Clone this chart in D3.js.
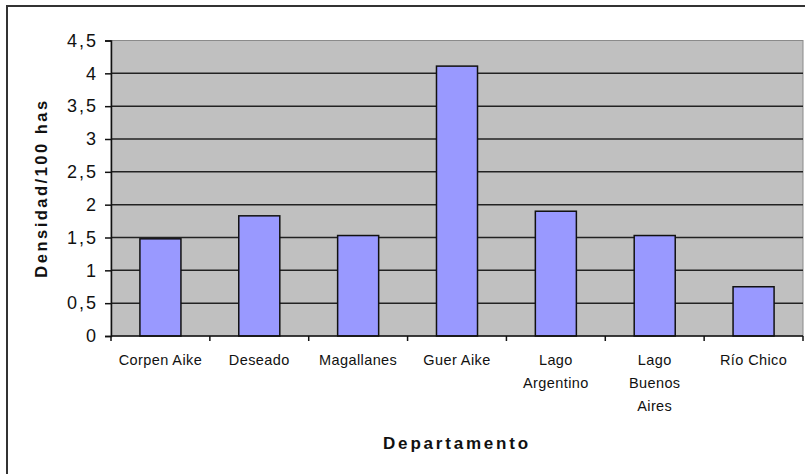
<!DOCTYPE html>
<html>
<head>
<meta charset="utf-8">
<script src="https://cdn.jsdelivr.net/npm/d3@7"></script>
<style>
  body { margin: 0; background: #fff; }
  svg { display: block; font-family: "Liberation Sans", Arial, sans-serif; }
</style>
</head>
<body>
<svg id="chart" width="805" height="474"></svg>
<script>
// data
var departamentos = ["Corpen Aike", "Deseado", "Magallanes", "Guer Aike", "Lago Argentino", "Lago Buenos Aires", "Río Chico"];
var etiquetas = [["Corpen Aike"], ["Deseado"], ["Magallanes"], ["Guer Aike"], ["Lago", "Argentino"], ["Lago", "Buenos", "Aires"], ["Río Chico"]];
var densidad = [1.48, 1.83, 1.53, 4.11, 1.90, 1.53, 0.75];
var yTicks = [0, 0.5, 1, 1.5, 2, 2.5, 3, 3.5, 4, 4.5];

var plot = {left: 111, right: 803, top: 40.5, bottom: 336};

var svg = d3.select("#chart");

// outer frame (right and bottom edges fall outside the picture)
svg.append("rect")
   .attr("x", 7).attr("y", 6)
   .attr("width", 900).attr("height", 600)
   .attr("fill", "#fff")
   .attr("stroke", "#333").attr("stroke-width", 2);

var x = d3.scaleBand()
          .domain(departamentos)
          .range([plot.left, plot.right])
          .paddingInner(0.585)
          .paddingOuter(0.2925);
var xTick = d3.scaleBand()
          .domain(departamentos)
          .range([plot.left, plot.right]);
var y = d3.scaleLinear()
          .domain([0, 4.5])
          .range([plot.bottom, plot.top]);

// plot area
svg.append("rect")
   .attr("x", plot.left).attr("y", plot.top)
   .attr("width", plot.right - plot.left)
   .attr("height", plot.bottom - plot.top)
   .attr("fill", "#c0c0c0")
   .attr("stroke", "#8a8a8a").attr("stroke-width", 1);

// gridlines
svg.append("g")
   .selectAll("line")
   .data(yTicks.filter(function(d){ return d > 0 && d < 4.5; }))
   .enter().append("line")
   .attr("x1", plot.left).attr("x2", plot.right)
   .attr("y1", function(d){ return y(d); })
   .attr("y2", function(d){ return y(d); })
   .attr("stroke", "#222").attr("stroke-width", 1.5);

// bars
svg.append("g")
   .selectAll("rect")
   .data(densidad)
   .enter().append("rect")
   .attr("x", function(d, i){ return x(departamentos[i]); })
   .attr("y", function(d){ return y(d); })
   .attr("width", x.bandwidth())
   .attr("height", function(d){ return y(0) - y(d); })
   .attr("fill", "#9999ff")
   .attr("stroke", "#111").attr("stroke-width", 1.5);

// y axis
var yAxis = d3.axisLeft(y)
              .tickValues(yTicks)
              .tickSize(6)
              .tickFormat(function(d){ return String(d).replace(".", ","); });
var gy = svg.append("g")
   .attr("transform", "translate(" + plot.left + ",0)")
   .call(yAxis);
gy.select(".domain").attr("stroke", "#111").attr("stroke-width", 1.5);
gy.selectAll(".tick line").attr("stroke", "#111").attr("stroke-width", 1.5);
gy.selectAll(".tick text")
  .attr("x", -13)
  .attr("fill", "#111")
  .style("font-size", "18px")
  .style("letter-spacing", "2px");

// x axis line + ticks at category boundaries
var gx = svg.append("g");
gx.append("line")
  .attr("x1", plot.left).attr("x2", plot.right)
  .attr("y1", plot.bottom).attr("y2", plot.bottom)
  .attr("stroke", "#111").attr("stroke-width", 1.5);
var bounds = departamentos.map(function(d){ return xTick(d); }).concat([plot.right]);
gx.selectAll(".xt")
  .data(bounds)
  .enter().append("line")
  .attr("class", "xt")
  .attr("x1", function(d){ return d; }).attr("x2", function(d){ return d; })
  .attr("y1", plot.bottom).attr("y2", plot.bottom + 5)
  .attr("stroke", "#111").attr("stroke-width", 1.5);

// category labels
var lab = svg.append("g")
  .selectAll("text")
  .data(etiquetas)
  .enter().append("text")
  .attr("text-anchor", "middle")
  .attr("fill", "#111")
  .style("font-size", "14.5px")
  .style("letter-spacing", "0.4px")
  .attr("transform", function(d, i){
    return "translate(" + (x(departamentos[i]) + x.bandwidth() / 2) + ",365)";
  });
lab.selectAll("tspan")
   .data(function(d){ return d; })
   .enter().append("tspan")
   .attr("x", 0)
   .attr("y", function(d, j){ return j * 23; })
   .text(function(d){ return d; });

// axis titles
svg.append("text")
   .attr("transform", "translate(47,188) rotate(-90)")
   .attr("text-anchor", "middle")
   .attr("fill", "#111")
   .style("font-size", "16.5px")
   .style("font-weight", "bold")
   .style("letter-spacing", "2.5px")
   .text("Densidad/100 has");

svg.append("text")
   .attr("x", (plot.left + plot.right) / 2)
   .attr("y", 449)
   .attr("text-anchor", "middle")
   .attr("fill", "#111")
   .style("font-size", "17px")
   .style("font-weight", "bold")
   .style("letter-spacing", "2.8px")
   .text("Departamento");
</script>
</body>
</html>
